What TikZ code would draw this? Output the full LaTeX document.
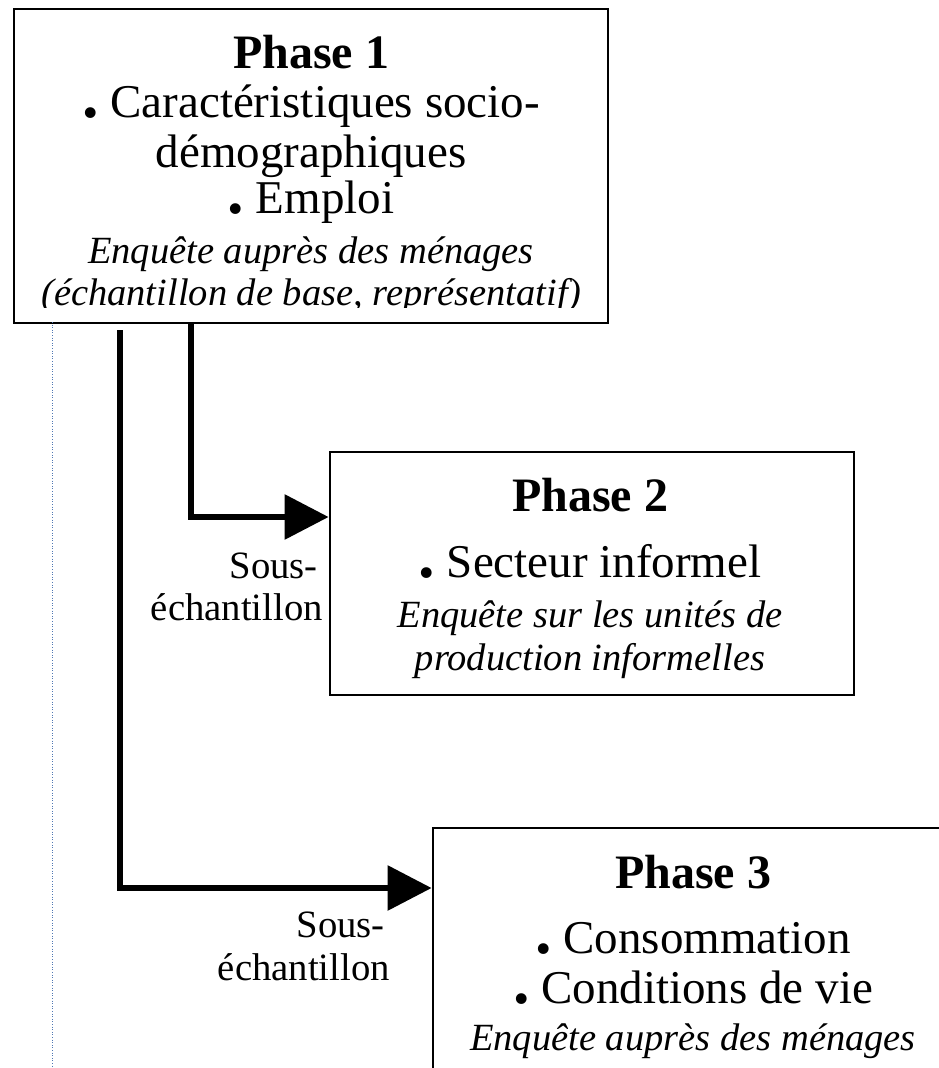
\documentclass[tikz,border=0pt]{standalone}
\usepackage{fontspec}
\setmainfont{Liberation Serif}
\usetikzlibrary{arrows.meta}
\definecolor{dotblue}{RGB}{80,120,180}
\newcommand\bul{{\fontsize{66}{66}\selectfont\bfseries .}\ }
\begin{document}
\begin{tikzpicture}[x=1pt,y=-1pt,
  phasebox/.style={draw, line width=2.8pt, inner sep=0pt},
  title/.style={anchor=base, inner sep=0pt, text height=33pt, text depth=1pt, font=\fontsize{48}{50}\selectfont\bfseries},
  item/.style={anchor=base, inner sep=0pt, text height=33pt, text depth=10pt, font=\fontsize{47}{48}\selectfont},
  note/.style={anchor=base, inner sep=0pt, text height=27pt, text depth=9pt, font=\fontsize{38.5}{40}\selectfont\itshape},
  lbl/.style={anchor=base east, inner sep=0pt, font=\fontsize{38.7}{40}\selectfont},
  conn/.style={line width=6pt, line join=miter},
  tip/.style={-{Triangle[length=44pt,width=44pt]}}]
\useasboundingbox (0,0) rectangle (939,1068);
\clip (0,0) rectangle (939,1068);
% boxes
\node[phasebox, minimum width=594pt, minimum height=314pt] (p1) at (311,166) {};
\node[phasebox, minimum width=524pt, minimum height=243pt] (p2) at (592,573.5) {};
\node[phasebox, minimum width=520pt, minimum height=292pt] (p3) at (693,974) {};
% guide line
\coordinate (d1) at (52,322);
\coordinate (d2) at (52,1068);
\draw[dotblue, line width=0.8pt, dash pattern=on 1pt off 1.6pt] (d1) -- (d2);
% phase 1 text
\node[title] (t1) at (311,68) {Phase 1};
\node[item] (t1a) at (311,117) {\bul Caractéristiques socio-};
\node[item] (t1b) at (311,167) {démographiques};
\node[item] (t1c) at (311,213) {\bul Emploi};
\node[note] (t1d) at (311,263) {Enquête auprès des ménages};
\begin{scope}
\clip (14,9) rectangle (608,307);
\node[note] (t1e) at (311,305) {(échantillon de base, représentatif)};
\end{scope}
% phase 2 text
\node[title] (t2) at (590,511) {Phase 2};
\node[item] (t2a) at (590,577) {\bul Secteur informel};
\node[note] (t2b) at (590,627) {Enquête sur les unités de};
\node[note] (t2c) at (590,670) {production informelles};
% phase 3 text
\node[title] (t3) at (693,888) {Phase 3};
\node[item] (t3a) at (693,953) {\bul Consommation};
\node[item] (t3b) at (693,1003) {\bul Conditions de vie};
\node[note] (t3c) at (693,1050) {Enquête auprès des ménages};
% connectors
\coordinate (s2) at (191,0);
\coordinate (a2) at (0,517);
\draw[conn, tip] (s2 |- p1.south) |- (p2.west |- a2);
\coordinate (c3) at (120,330);
\coordinate (a3) at (0,888);
\draw[conn, tip] (c3) |- (p3.west |- a3);
% labels
\node[lbl] (l1a) at (318,578) {Sous-};
\node[lbl] (l1b) at (323,620) {échantillon};
\node[lbl] (l2a) at (385,937) {Sous-};
\node[lbl] (l2b) at (390,980) {échantillon};
\end{tikzpicture}
\end{document}
